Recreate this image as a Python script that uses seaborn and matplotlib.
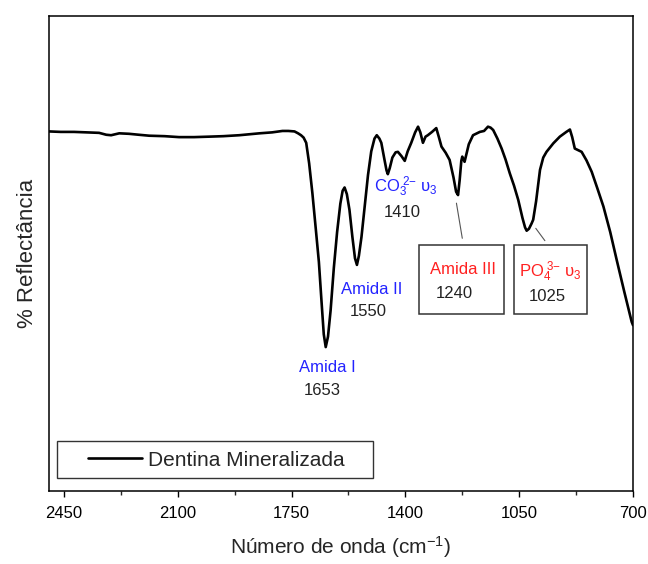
import numpy as np
import pandas as pd
import seaborn as sns
import matplotlib.pyplot as plt
from matplotlib.patches import Rectangle
from matplotlib.lines import Line2D
from matplotlib.ticker import MultipleLocator

# FTIR spectrum of mineralised dentine (wavenumber in cm-1, reflectance in arbitrary %)
wavenumber = [2496, 2460, 2419, 2380, 2342, 2320, 2305, 2280, 2250, 2220,
              2188, 2140, 2096, 2050, 2003, 1960, 1911, 1880, 1849, 1810,
              1778, 1760, 1741, 1730, 1721, 1713, 1705, 1696, 1686, 1676,
              1666, 1658, 1651, 1645, 1638, 1630, 1620, 1610, 1600, 1593,
              1587, 1580, 1572, 1563, 1555, 1549, 1543, 1535, 1525, 1515,
              1505, 1495, 1488, 1480, 1474, 1465, 1458, 1454, 1448, 1440,
              1430, 1423, 1412, 1402, 1393, 1382, 1370, 1361, 1354, 1346,
              1338, 1331, 1318, 1305, 1297, 1289, 1276, 1264, 1252, 1244,
              1238, 1233, 1228, 1225, 1218, 1205, 1192, 1180, 1171, 1158,
              1146, 1138, 1130, 1117, 1104, 1092, 1079, 1066, 1053, 1040,
              1032, 1027, 1020, 1012, 1007, 998, 986, 976, 966, 945,
              925, 905, 894, 887, 879, 870, 858, 843, 827, 810,
              791, 770, 750, 727, 704, 700]
reflectance = [75.7, 75.6, 75.6, 75.5, 75.4, 75.0, 74.9, 75.3, 75.2, 75.0,
               74.8, 74.7, 74.5, 74.5, 74.6, 74.7, 74.9, 75.1, 75.3, 75.5,
               75.8, 75.8, 75.7, 75.3, 74.9, 74.4, 73.3, 69.0, 62.7, 55.5,
               48.2, 40.0, 33.0, 30.3, 32.5, 38.0, 47.0, 54.5, 60.5, 63.2,
               63.9, 62.5, 59.2, 53.5, 49.0, 47.6, 49.5, 53.5, 60.0, 66.5,
               71.5, 74.2, 74.9, 74.2, 73.3, 70.0, 67.5, 66.7, 68.0, 70.2,
               71.3, 71.4, 70.5, 69.5, 71.5, 73.3, 75.5, 76.7, 75.5, 73.3,
               74.6, 74.9, 75.6, 76.4, 74.5, 72.5, 71.2, 69.7, 66.0, 63.0,
               62.3, 65.5, 69.5, 70.4, 69.3, 73.0, 74.9, 75.3, 75.6, 75.8,
               76.7, 76.5, 76.0, 74.2, 72.1, 69.8, 66.9, 64.3, 61.3, 57.5,
               55.5, 54.8, 55.2, 56.3, 57.1, 61.0, 67.6, 70.2, 71.4, 73.2,
               74.6, 75.6, 76.1, 74.5, 72.1, 71.8, 71.4, 69.6, 67.2, 63.8,
               59.9, 54.5, 48.6, 42.0, 35.6, 34.9]
series_name = "Dentina Mineralizada"

x_ticks = [2450, 2100, 1750, 1400, 1050, 700]

BLUE = "#2323ff"
RED = "#ff2020"

sns.set_theme(style="white")
plt.rcParams["font.family"] = ["Liberation Sans", "DejaVu Sans"]
plt.rcParams["mathtext.fontset"] = "custom"
plt.rcParams["mathtext.rm"] = "Liberation Sans"
plt.rcParams["mathtext.it"] = "Liberation Sans:italic"

df = pd.DataFrame({"wn": wavenumber, "R": reflectance})

fig = plt.figure(figsize=(6.48, 5.64), dpi=100)
ax = fig.add_axes([49 / 648, 1 - 491 / 564, 584 / 648, 475 / 564])

sns.lineplot(data=df, x="wn", y="R", ax=ax, color="black", linewidth=1.9,
             sort=False, legend=False)

ax.set_xlim(2496, 700)
ax.set_ylim(0, 100)
ax.set_xticks(x_ticks)
ax.xaxis.set_minor_locator(MultipleLocator(175))
ax.set_yticks([])
ax.tick_params(axis="x", which="major", direction="out", length=4.5, width=1.0,
               labelsize=12, pad=6, colors="black", bottom=True)
ax.tick_params(axis="x", which="minor", direction="out", length=3, width=1.0,
               bottom=True)
for s in ax.spines.values():
    s.set_visible(True)
    s.set_color("black")
    s.set_linewidth(1.1)

ax.set_xlabel(r"Número de onda (cm$^{-1}$)", fontsize=15, labelpad=10)
ax.set_ylabel("% Reflectância", fontsize=16, labelpad=8)

# band assignments
def band(x, y, txt, color, size=12):
    ax.text(x, y, txt, color=color, fontsize=size, ha="center", va="center")

band(1640, 26.1, "Amida I", BLUE)
band(1656, 21.2, "1653", "#222222")
band(1505, 42.5, "Amida II", BLUE)
band(1514, 37.7, "1550", "#222222")
band(1398, 64.0, r"CO$_3^{\ 2\mathrm{-}}$ $\mathrm{υ}_3$", BLUE)
band(1410, 58.7, "1410", "#222222")
band(1224, 46.6, "Amida III", RED)
band(1248, 41.5, "1240", "#222222")
band(954, 46.2, r"PO$_4^{\ 3\mathrm{-}}$ $\mathrm{υ}_3$", RED)
band(962, 41.0, "1025", "#222222")

# framed labels for the amide III and phosphate bands
for x0, x1 in [(1358, 1097), (1067, 841)]:
    ax.add_patch(Rectangle((x1, 37.3), x0 - x1, 51.8 - 37.3, fill=False,
                           edgecolor="#333333", linewidth=1.1))
ax.plot([1243, 1225], [60.6, 53.2], color="#555555", linewidth=0.8)
ax.plot([999, 971], [55.3, 52.7], color="#555555", linewidth=0.8)

# legend
ax.add_patch(Rectangle(((57 - 49) / 584, (491 - 478) / 475), 316 / 584, 37 / 475,
                       transform=ax.transAxes, fill=False, edgecolor="#333333",
                       linewidth=1.0))
handle = Line2D([], [], color="black", linewidth=1.9)
ax.legend([handle], [series_name], loc="center left",
          bbox_to_anchor=((88 - 49) / 584, (491 - 460) / 475), frameon=False,
          fontsize=15, handlelength=2.6, handletextpad=0.3, borderpad=0,
          borderaxespad=0)

fig.savefig("out.png", dpi=100)
